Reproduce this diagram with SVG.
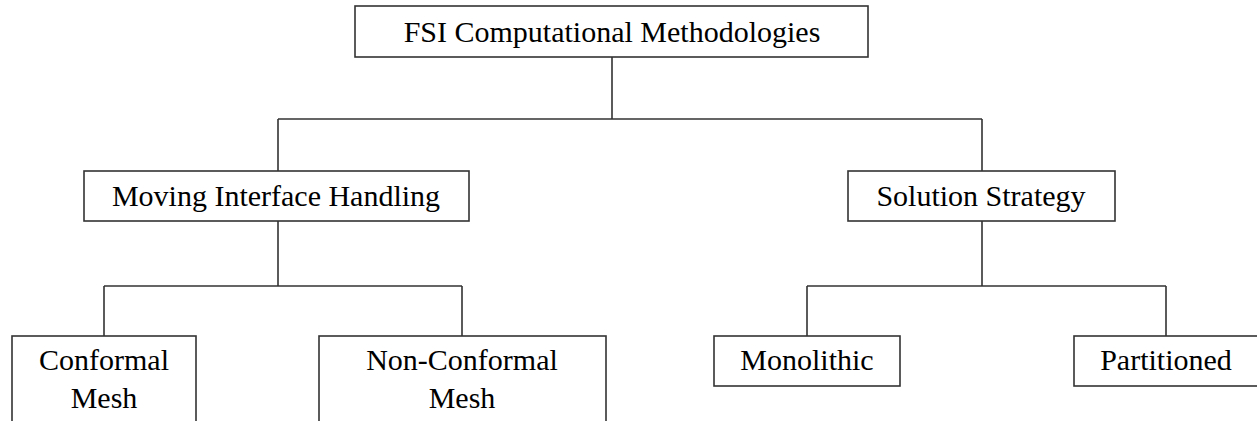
<svg xmlns="http://www.w3.org/2000/svg" width="1257" height="421" viewBox="0 0 1257 421">
<style>
.box{fill:#fff;stroke:#333;stroke-width:1.6}
.lbl{font-family:"Liberation Serif","Times New Roman",serif;font-size:30px;fill:#000;text-anchor:middle}
.con{fill:none;stroke:#333;stroke-width:1.6}
</style>
<rect width="1257" height="421" fill="#fff"/>
<g id="connectors" class="con">
<path d="M612,57 V119 M278,119 H982 M278,119 V171 M982,119 V171"/>
<path d="M278,221 V286 M104,286 H462 M104,286 V336 M462,286 V336"/>
<path d="M982,221 V286 M807,286 H1166 M807,286 V336 M1166,286 V336"/>
</g>
<g id="root"><rect class="box" x="355" y="6" width="513" height="51"/><text class="lbl" x="612" y="42">FSI Computational Methodologies</text></g>
<g id="moving"><rect class="box" x="84" y="171" width="385" height="50"/><text class="lbl" x="276" y="206">Moving Interface Handling</text></g>
<g id="solution"><rect class="box" x="848" y="171" width="267" height="50"/><text class="lbl" x="981" y="206">Solution Strategy</text></g>
<g id="conformal"><rect class="box" x="12" y="336" width="184" height="100"/><text class="lbl" x="104" y="370">Conformal</text><text class="lbl" x="104" y="408">Mesh</text></g>
<g id="nonconformal"><rect class="box" x="319" y="336" width="287" height="100"/><text class="lbl" x="462" y="370">Non-Conformal</text><text class="lbl" x="462" y="408">Mesh</text></g>
<g id="monolithic"><rect class="box" x="714" y="336" width="186" height="50"/><text class="lbl" x="807" y="370">Monolithic</text></g>
<g id="partitioned"><rect class="box" x="1074" y="336" width="200" height="50"/><text class="lbl" x="1166" y="370">Partitioned</text></g>
</svg>
